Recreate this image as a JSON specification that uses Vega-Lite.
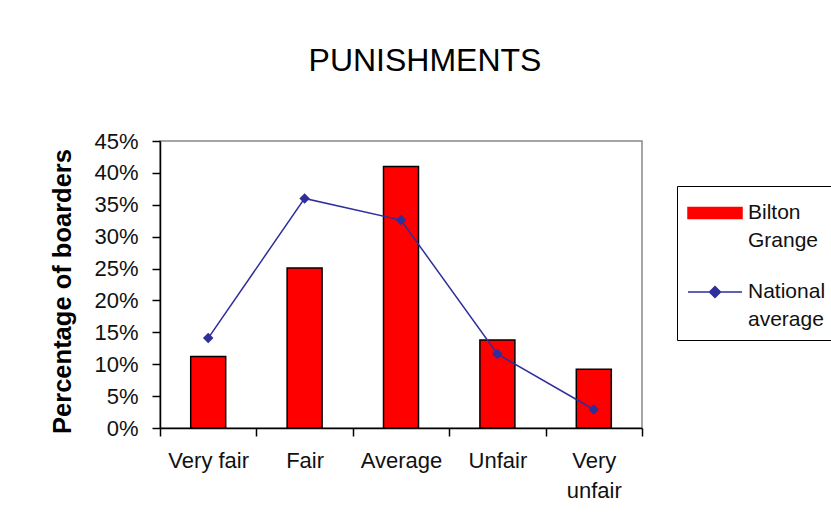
{
  "$schema": "https://vega.github.io/schema/vega-lite/v6.json",
  "autosize": "none",
  "width": 482,
  "height": 287,
  "padding": {"left": 160, "top": 141, "right": 189, "bottom": 103},
  "background": "white",
  "title": {
    "text": "PUNISHMENTS",
    "font": "Liberation Sans",
    "fontSize": 32,
    "fontWeight": "normal",
    "color": "#000000",
    "anchor": "middle",
    "dx": 24,
    "baseline": "alphabetic",
    "offset": 27
  },
  "config": {
    "view": {"stroke": "#888888", "strokeWidth": 1.5},
    "font": "Liberation Sans"
  },
  "data": {
    "values": [
      {"category": "Very fair", "series": "Bilton Grange", "value": 0.112},
      {"category": "Fair", "series": "Bilton Grange", "value": 0.251},
      {"category": "Average", "series": "Bilton Grange", "value": 0.41},
      {"category": "Unfair", "series": "Bilton Grange", "value": 0.138},
      {"category": "Very unfair", "series": "Bilton Grange", "value": 0.092},
      {"category": "Very fair", "series": "National average", "value": 0.141},
      {"category": "Fair", "series": "National average", "value": 0.36},
      {"category": "Average", "series": "National average", "value": 0.326},
      {"category": "Unfair", "series": "National average", "value": 0.116},
      {"category": "Very unfair", "series": "National average", "value": 0.029}
    ]
  },
  "encoding": {
    "x": {
      "field": "category",
      "type": "nominal",
      "sort": ["Very fair", "Fair", "Average", "Unfair", "Very unfair"],
      "scale": {"padding": 0},
      "axis": {
        "title": null,
        "labelAngle": 0,
        "tickBand": "extent",
        "domainColor": "#000000",
        "domainWidth": 1.5,
        "tickColor": "#000000",
        "tickWidth": 1.5,
        "tickSize": 8,
        "labelFont": "Liberation Sans",
        "labelFontSize": 22,
        "labelColor": "#111111",
        "labelPadding": 14,
        "labelLineHeight": 30,
        "labelExpr": "datum.value == 'Very unfair' ? ['Very', 'unfair'] : datum.value"
      }
    },
    "y": {
      "field": "value",
      "type": "quantitative",
      "scale": {"domain": [0, 0.45], "nice": false},
      "axis": {
        "title": "Percentage of boarders",
        "titleFont": "Liberation Sans",
        "titleFontSize": 25.5,
        "titleFontWeight": "bold",
        "titleColor": "#000000",
        "titlePadding": 18,
        "titleY": 150,
        "values": [0, 0.05, 0.1, 0.15, 0.2, 0.25, 0.3, 0.35, 0.4, 0.45],
        "format": ".0%",
        "grid": false,
        "domainColor": "#000000",
        "domainWidth": 1.5,
        "tickColor": "#000000",
        "tickWidth": 1.5,
        "tickSize": 8,
        "labelFont": "Liberation Sans",
        "labelFontSize": 22,
        "labelColor": "#111111",
        "labelPadding": 14
      }
    },
    "color": {
      "field": "series",
      "type": "nominal",
      "scale": {"domain": ["Bilton Grange", "National average"], "range": ["#FF0000", "#2E2E9C"]},
      "legend": {
        "orient": "none",
        "legendX": 517,
        "legendY": 45,
        "title": null,
        "strokeColor": "#000000",
        "fillColor": "#FFFFFF",
        "padding": 10,
        "labelFont": "Liberation Sans",
        "labelFontSize": 21,
        "labelColor": "#111111",
        "labelOffset": 27,
        "labelLimit": 200,
        "symbolSize": 1024,
        "rowPadding": 24,
        "labelExpr": "datum.label == 'Bilton Grange' ? ['Bilton', 'Grange'] : ['National', 'average']",
        "encode": {
          "symbols": {
            "update": {
              "shape": {"signal": "datum.value == 'Bilton Grange' ? 'M-1,-0.344H2.375V0.344H-1Z' : 'M-1,0H2.375M0.344,0L0.6875,-0.344L1.031,0L0.6875,0.344Z'"},
              "fill": {"signal": "datum.value == 'Bilton Grange' ? '#FF0000' : '#000080'"},
              "stroke": {"signal": "datum.value == 'Bilton Grange' ? '#000000' : '#2E2E9C'"},
              "strokeWidth": {"value": 1.5},
              "opacity": {"value": 1},
              "fillOpacity": {"value": 1},
              "strokeOpacity": {"value": 1}
            }
          },
          "labels": {
            "update": {
              "lineHeight": {"value": 28},
              "baseline": {"value": "middle"}
            }
          }
        }
      }
    }
  },
  "layer": [
    {
      "transform": [{"filter": "datum.series == 'Bilton Grange'"}],
      "mark": {"type": "bar", "width": {"band": 0.363}, "stroke": "#000000", "strokeWidth": 1.5}
    },
    {
      "transform": [{"filter": "datum.series == 'National average'"}],
      "mark": {
        "type": "line",
        "strokeWidth": 1.5,
        "point": {"filled": true, "shape": "diamond", "size": 110, "color": "#000080", "opacity": 1}
      }
    }
  ]
}
